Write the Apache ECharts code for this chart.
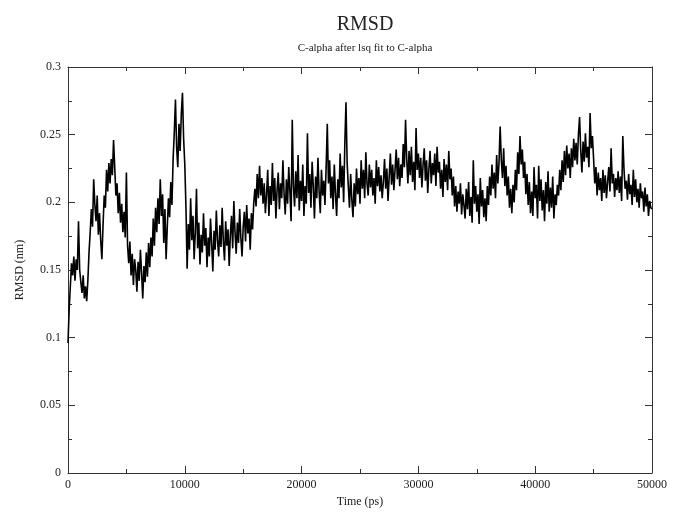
<!DOCTYPE html>
<html><head><meta charset="utf-8">
<script src="https://cdn.jsdelivr.net/npm/echarts@6/dist/echarts.min.js"></script>
<style>html,body{margin:0;padding:0;background:#fff}#c{width:673px;height:513px}</style>
</head><body><div id="c"></div>
<script>
const titleText = "RMSD";
const subtitleText = "C-alpha after lsq fit to C-alpha";
const xName = "Time (ps)";
const yName = "RMSD (nm)";
const timeStep = 100; // ps between samples
const xTicks = [0, 10000, 20000, 30000, 40000, 50000];
const yTicks = [0, 0.05, 0.1, 0.15, 0.2, 0.25, 0.3];
const rmsd = [
0.096,0.121,0.138,0.155,0.146,0.160,0.142,0.158,0.150,0.186,
0.150,0.141,0.133,0.146,0.129,0.138,0.127,0.142,0.163,0.178,
0.195,0.182,0.217,0.198,0.186,0.205,0.176,0.192,0.172,0.158,
0.183,0.205,0.196,0.224,0.208,0.229,0.214,0.232,0.220,0.246,
0.226,0.205,0.214,0.192,0.207,0.185,0.199,0.178,0.193,0.174,
0.222,0.168,0.155,0.171,0.146,0.162,0.139,0.158,0.150,0.134,
0.156,0.142,0.165,0.148,0.129,0.153,0.141,0.163,0.145,0.170,
0.152,0.174,0.160,0.188,0.168,0.196,0.178,0.203,0.184,0.217,
0.190,0.206,0.170,0.195,0.158,0.182,0.203,0.189,0.215,0.198,
0.232,0.252,0.276,0.241,0.226,0.258,0.238,0.265,0.281,0.247,
0.228,0.196,0.151,0.184,0.165,0.203,0.172,0.190,0.158,0.178,
0.210,0.166,0.185,0.154,0.176,0.163,0.192,0.168,0.181,0.152,
0.174,0.160,0.188,0.170,0.149,0.179,0.165,0.194,0.172,0.160,
0.183,0.167,0.196,0.171,0.157,0.186,0.168,0.180,0.153,0.176,
0.190,0.166,0.201,0.178,0.162,0.185,0.170,0.195,0.174,0.160,
0.182,0.193,0.171,0.198,0.177,0.188,0.165,0.192,0.180,0.199,
0.210,0.197,0.221,0.203,0.227,0.205,0.218,0.199,0.214,0.192,
0.206,0.224,0.190,0.212,0.198,0.229,0.201,0.218,0.188,0.209,
0.222,0.195,0.214,0.203,0.231,0.206,0.191,0.217,0.199,0.226,
0.208,0.186,0.261,0.212,0.197,0.223,0.203,0.235,0.194,0.216,
0.201,0.228,0.190,0.212,0.199,0.251,0.207,0.221,0.196,0.230,
0.212,0.188,0.219,0.203,0.233,0.208,0.192,0.224,0.205,0.216,
0.198,0.226,0.258,0.214,0.231,0.203,0.219,0.195,0.228,0.206,
0.190,0.217,0.203,0.236,0.211,0.227,0.200,0.243,0.274,0.229,
0.212,0.196,0.221,0.202,0.189,0.214,0.197,0.225,0.206,0.218,
0.199,0.231,0.210,0.224,0.203,0.237,0.214,0.205,0.228,0.211,
0.224,0.205,0.218,0.199,0.231,0.212,0.226,0.208,0.220,0.203,
0.215,0.232,0.210,0.225,0.201,0.219,0.236,0.213,0.228,0.209,
0.224,0.239,0.217,0.233,0.212,0.228,0.218,0.243,0.226,0.261,
0.232,0.214,0.238,0.220,0.241,0.215,0.230,0.209,0.255,0.224,
0.236,0.218,0.233,0.211,0.228,0.240,0.216,0.231,0.207,0.225,
0.238,0.214,0.229,0.220,0.236,0.212,0.241,0.222,0.230,0.210,
0.224,0.204,0.232,0.215,0.228,0.209,0.238,0.217,0.225,0.205,
0.219,0.197,0.212,0.193,0.208,0.199,0.214,0.191,0.206,0.198,
0.188,0.210,0.195,0.215,0.190,0.204,0.185,0.231,0.199,0.212,
0.193,0.206,0.184,0.218,0.197,0.209,0.189,0.203,0.186,0.212,
0.198,0.219,0.205,0.228,0.210,0.222,0.203,0.235,0.214,0.229,
0.256,0.231,0.218,0.240,0.212,0.227,0.205,0.219,0.196,0.210,
0.192,0.213,0.200,0.224,0.209,0.237,0.221,0.249,0.228,0.239,
0.218,0.230,0.206,0.221,0.198,0.215,0.192,0.208,0.190,0.226,
0.203,0.213,0.188,0.227,0.201,0.217,0.194,0.209,0.186,0.215,
0.199,0.223,0.193,0.211,0.196,0.219,0.188,0.206,0.198,0.213,
0.205,0.224,0.209,0.231,0.215,0.238,0.220,0.242,0.225,0.236,
0.218,0.240,0.226,0.247,0.231,0.244,0.228,0.250,0.263,0.238,
0.222,0.245,0.230,0.251,0.233,0.241,0.226,0.266,0.240,0.249,
0.232,0.214,0.226,0.205,0.222,0.209,0.218,0.201,0.224,0.207,
0.220,0.203,0.215,0.226,0.208,0.240,0.214,0.221,0.204,0.218,
0.209,0.223,0.207,0.219,0.201,0.249,0.225,0.210,0.216,0.202,
0.221,0.206,0.213,0.198,0.224,0.204,0.217,0.200,0.210,0.196,
0.214,0.203,0.208,0.193,0.211,0.197,0.206,0.190,0.201,0.196,
0.195
];
const points = rmsd.map((v, i) => [i * timeStep, v]);

const font = "'Liberation Serif','Times New Roman',serif";
const axisColor = '#333';
const xMin = xTicks[0], xMax = xTicks[xTicks.length - 1], xInt = xTicks[1] - xTicks[0];
const yMin = yTicks[0], yMax = yTicks[yTicks.length - 1], yInt = 0.05;

function xAxisCfg(pos, show) {
  return {
    type: 'value', position: pos, min: xMin, max: xMax, interval: xInt,
    axisLine: {show: true, onZero: false, lineStyle: {color: axisColor, width: 1}},
    axisTick: {show: true, inside: true, length: 7, lineStyle: {color: axisColor}},
    minorTick: {show: true, splitNumber: 2, length: 4, lineStyle: {color: axisColor}},
    splitLine: {show: false},
    axisLabel: {show: show, color: '#222', fontFamily: font, fontSize: 12, margin: 6,
      formatter: v => String(Math.round(v))},
    name: show ? xName : '', nameLocation: 'middle', nameGap: 23,
    nameTextStyle: {color: '#222', fontFamily: font, fontSize: 12}
  };
}
function yAxisCfg(pos, show) {
  return {
    type: 'value', position: pos, min: yMin, max: yMax, interval: yInt,
    axisLine: {show: true, onZero: false, lineStyle: {color: axisColor, width: 1}},
    axisTick: {show: true, inside: true, length: 7, lineStyle: {color: axisColor}},
    minorTick: {show: true, splitNumber: 2, length: 4, lineStyle: {color: axisColor}},
    splitLine: {show: false},
    axisLabel: {show: show, color: '#222', fontFamily: font, fontSize: 12, margin: 7,
      formatter: v => String(+v.toFixed(3))},
    name: show ? yName : '', nameLocation: 'middle', nameGap: 42, nameRotate: 90,
    nameTextStyle: {color: '#222', fontFamily: font, fontSize: 12}
  };
}

const chart = echarts.init(document.getElementById('c'), null, {renderer: 'canvas'});
chart.setOption({
  animation: false,
  backgroundColor: '#fff',
  title: [
    {text: titleText, left: 360, top: 10, textAlign: 'center',
     textStyle: {fontFamily: font, fontSize: 20, fontWeight: 'normal', color: '#222'}},
    {text: subtitleText, left: 360, top: 38, textAlign: 'center',
     textStyle: {fontFamily: font, fontSize: 11, fontWeight: 'normal', color: '#222'}}
  ],
  grid: {left: 68, right: 21, top: 67, bottom: 37, containLabel: false},
  xAxis: [xAxisCfg('bottom', true), xAxisCfg('top', false)],
  yAxis: [yAxisCfg('left', true), yAxisCfg('right', false)],
  series: [{
    type: 'line', data: points, xAxisIndex: 0, yAxisIndex: 0,
    showSymbol: false, symbol: 'none',
    lineStyle: {color: '#000', width: 1.6}
  }]
});
</script>
</body></html>
